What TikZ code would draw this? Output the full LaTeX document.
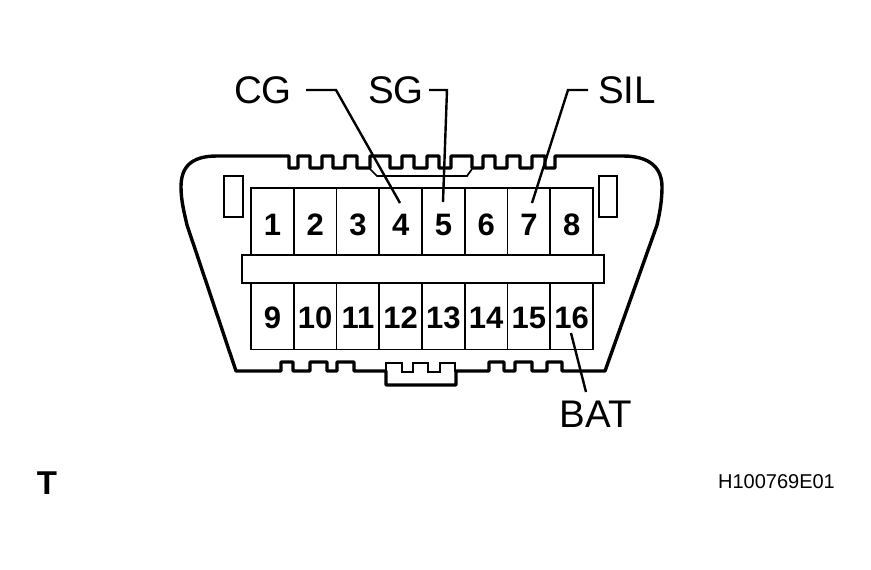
\documentclass[tikz,border=0pt]{standalone}
\usepackage{fontspec}
\setmainfont{Liberation Sans}
\tikzset{
  shell/.style={line width=3.4pt, line join=round},
  thin shell/.style={line width=1.7pt},
  cell/.style={draw, line width=1.8pt, minimum width=42.75pt, minimum height=67pt, inner sep=0pt},
  slot/.style={draw, line width=1.8pt, minimum height=41pt, inner sep=0pt},
  pinnum/.style={font=\fontsize{31}{31}\selectfont\bfseries, inner sep=0pt},
  lab/.style={font=\fontsize{38.5}{38.5}\selectfont, inner ysep=0pt},
  leader/.style={line width=2.4pt, line join=miter},
}
\begin{document}
\begin{tikzpicture}[x=1pt,y=-1pt]
        \useasboundingbox (0,0) rectangle (871,570);

        % Connector shell
        \draw[shell] (217,156) -- (289,156) |- (298,168) |- (310,156) |- (322,168) |- (333,156) |- (345,168)
            |- (357,156) |- (370,168) |- (390,156) |- (402,168) |- (414,156) |- (427,168) |- (439,156) |- (451,168)
            |- (472,156) |- (483,168) |- (495,156) |- (507,168) |- (520,156) |- (532,168) |- (545,156) |- (555,168)
            |- (623,156)
            .. controls (650,156) and (662,168) .. (662,187)
            .. controls (662,200) and (660,212) .. (657,225)
            -- (605,371) -- (562,371) |- (547,362) |- (532,371) |- (515,362) |- (504,371) |- (489,362) |- (456,371)
            |- (386,385) |- (354,371) |- (337,362) |- (327,371) |- (310,362) |- (293,371) |- (281,362) |- (236,371)
            -- (187,225)
            .. controls (184,212) and (181,200) .. (181,187)
            .. controls (181,168) and (190,156) .. (217,156) -- cycle;

        % Key inside the top edge
        \draw[thin shell] (370,169) -- (377,176) -- (467,176) -- (472,169);

        % Key at the bottom edge
        \draw[thin shell] (386,371) |- (402,363) |- (413,372) |- (428,363) |- (440,372) |- (455,363) -- (455,372);

        % Guide slots
        \node[slot, minimum width=19pt] (slotl) at (233.5,196.5) {};
        \node[slot, minimum width=18pt] (slotr) at (608,196.5) {};

        % Pins
        \foreach \n in {1,...,8} {
            \node[cell, label={[pinnum, yshift=-3.5pt]center:\n}] (pin\n) at ({272.4+42.75*(\n-1)},221.5) {};
        }
        \foreach \n in {9,...,16} {
            \node[cell, label={[pinnum, yshift=-2pt]center:\n}] (pin\n) at ({272.4+42.75*(\n-9)},316) {};
        }

        % Bar between the rows
        \node[draw, fill=white, line width=1.8pt, minimum width=362pt, minimum height=28pt, inner sep=0pt] (bar) at (423,269) {};

        % Labels
        \node[lab, anchor=east, inner xsep=14pt] (cg) at (306,90) {CG};
        \node[lab, anchor=east, inner xsep=5pt] (sg) at (429,90) {SG};
        \node[lab, anchor=west, inner xsep=10pt] (sil) at (588,90) {SIL};
        \node[lab, anchor=north, inner xsep=0pt, inner ysep=9pt] (bat) at (596,392) {BAT};
        \node[font=\fontsize{33}{33}\selectfont\bfseries, inner sep=0pt] (tlabel) at (47,483) {T};
        \node[font=\fontsize{20}{20}\selectfont, inner sep=0pt] (code) at (776.5,482) {H100769E01};

        % Leaders
        \coordinate (tip4) at (400,203);
        \coordinate (tip5) at (443,202);
        \coordinate (tip7) at (532,203);
        \coordinate (tip16) at (571,333);
        \coordinate (batend) at (586,392);
        \draw[leader] (cg.east) -- (336,90) -- (tip4);
        \draw[leader] (sg.east) -- (447,90) -- (tip5);
        \draw[leader] (sil.west) -- (568,90) -- (tip7);
        \draw[leader] (tip16) -- (batend);
    \end{tikzpicture}
\end{document}
